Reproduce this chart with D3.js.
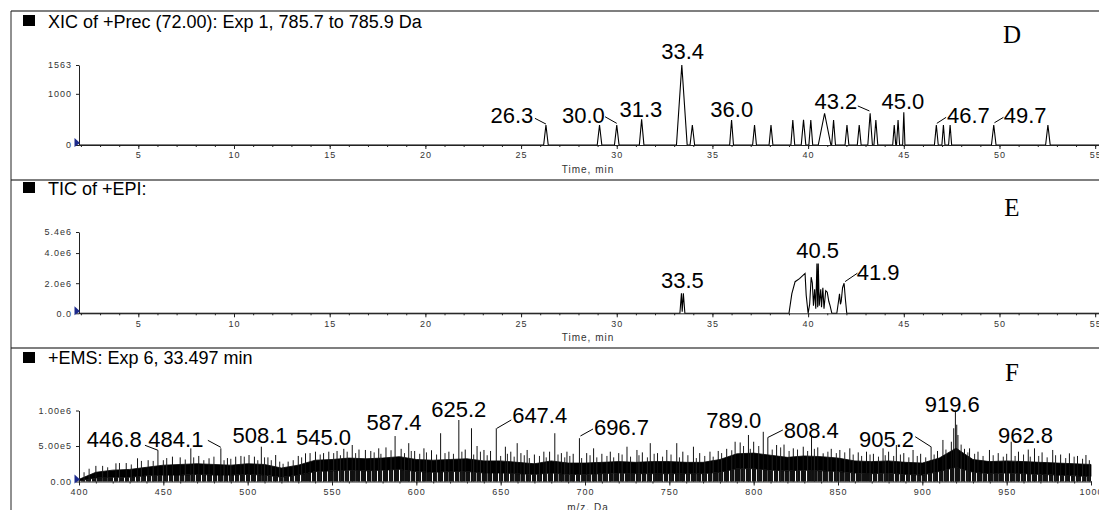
<!DOCTYPE html>
<html><head><meta charset="utf-8">
<script src="https://cdn.jsdelivr.net/npm/d3@7"></script>
<style>
html,body{margin:0;padding:0;background:#fff;overflow:hidden;}
svg{display:block;font-family:"Liberation Sans",Arial,sans-serif;}
.tick text{fill:#333;font-size:9px;letter-spacing:1px;}
.axis path,.axis line{stroke:#222;}
</style></head><body>
<svg id="c" width="1099" height="510"></svg>
<script>
// ---------------- DATA ----------------
const timeTicks = [5,10,15,20,25,30,35,40,45,50,55];
const mzTicks = [400,450,500,550,600,650,700,750,800,850,900,950,1000];
const xicYTicks = [0,1000,1563];
const xicYTickLabels = ["0","1000","1563"];
const ticYTicks = [0,2.0e6,4.0e6,5.4e6];
const ticYTickLabels = ["0.0","2.0e6","4.0e6","5.4e6"];
const emsYTicks = [0,5.0e5,1.0e6];
const emsYTickLabels = ["0.00","5.00e5","1.00e6"];

const titles = ["XIC of +Prec (72.00): Exp 1, 785.7 to 785.9 Da","TIC of +EPI:","+EMS: Exp 6, 33.497 min"];
const panelLetters = ["D","E","F"];

// Panel D: XIC peaks (retention time, min; intensity, cps; half width, min)
const xicRt        = [26.3,29.1,30.0,31.3,33.4,33.95,36.0,37.2,38.06,39.2,39.76,40.14,40.86,41.33,42.03,42.67,43.24,43.54,44.5,44.7,45.0,46.7,47.07,47.42,49.7,52.53];
const xicHeight    = [390,390,390,500,1563,390,490,390,390,490,490,490,620,490,390,390,620,490,390,490,640,390,390,390,390,390];
const xicHalfWidth = [0.12,0.12,0.12,0.12,0.28,0.12,0.1,0.1,0.1,0.1,0.12,0.1,0.33,0.1,0.1,0.1,0.12,0.1,0.08,0.08,0.06,0.1,0.08,0.08,0.12,0.12];
const xicLabelText = ["26.3","30.0","31.3","33.4","36.0","43.2","45.0","46.7","49.7"];
const xicLabelRt   = [26.3,30.0,31.3,33.4,36.0,43.24,45.0,46.7,49.7];
const xicLabelInt  = [390,390,500,1563,490,620,640,390,390];

// Panel E: TIC trace (time, min ; intensity, cps)
const ticTime = [1.9,33.3,33.38,33.42,33.48,33.56,39.0,39.15,39.32,39.55,39.84,39.9,40.0,40.08,40.16,40.22,40.28,40.34,40.4,40.46,40.5,40.53,40.58,40.66,40.7,40.77,40.83,40.92,41.0,41.08,41.15,41.24,41.5,41.6,41.64,41.69,41.73,41.8,41.88,41.95,42.02,55.2];
const ticInt  = [0,0,1.33e6,0.1e6,1.33e6,0,0,1.3e6,2.1e6,2.3e6,2.65e6,1.2e6,0,0.6e6,2.4e6,2.0e6,0.5e6,1.6e6,0.3e6,3.3e6,0.4e6,3.3e6,0.5e6,1.6e6,0.4e6,1.7e6,0.3e6,1.5e6,1.4e6,0.8e6,0.5e6,0,0,0.9e6,1.3e6,0.6e6,0.8e6,1.7e6,2.0e6,0.9e6,0,0];
const ticLabelText = ["33.5","40.5","41.9"];
const ticLabelTime = [33.48,40.5,41.88];
const ticLabelInt  = [1.33e6,3.3e6,2.0e6];

// Panel F: EMS spectrum — noise band envelope (m/z ; low and high edge, cps)
const noiseMz = [400,410,420,430,440,450,460,470,480,490,500,510,520,530,540,550,560,570,580,590,600,610,620,630,640,650,660,670,680,690,700,710,720,730,740,750,760,770,780,790,800,810,820,830,840,850,860,870,880,890,900,910,920,930,940,950,960,970,980,990,1000];
const noiseHi = [0.3e5,1.3e5,1.6e5,1.7e5,2.0e5,2.3e5,2.4e5,2.5e5,2.4e5,2.3e5,2.5e5,2.4e5,1.9e5,2.3e5,3.0e5,3.1e5,3.3e5,3.2e5,3.3e5,3.5e5,3.1e5,3.0e5,3.1e5,3.2e5,2.9e5,2.9e5,2.7e5,2.5e5,2.9e5,2.6e5,2.6e5,2.7e5,2.8e5,2.7e5,2.8e5,2.8e5,2.7e5,2.7e5,3.1e5,3.9e5,4.0e5,3.7e5,3.4e5,3.6e5,3.5e5,3.3e5,2.9e5,2.8e5,2.9e5,2.7e5,2.6e5,3.3e5,4.7e5,3.1e5,2.8e5,2.9e5,2.8e5,2.7e5,2.6e5,2.5e5,2.4e5];
const noiseLo = [0.1e5,0.5e5,0.6e5,0.6e5,0.8e5,0.9e5,0.9e5,1.0e5,0.9e5,0.9e5,1.0e5,0.9e5,0.6e5,0.9e5,1.4e5,1.5e5,1.6e5,1.5e5,1.6e5,1.7e5,1.4e5,1.3e5,1.4e5,1.4e5,1.2e5,1.2e5,1.1e5,1.0e5,1.2e5,1.0e5,1.0e5,1.1e5,1.2e5,1.1e5,1.1e5,1.1e5,1.1e5,1.1e5,1.3e5,1.8e5,1.8e5,1.6e5,1.5e5,1.6e5,1.5e5,1.4e5,1.2e5,1.1e5,1.2e5,1.0e5,0.9e5,1.4e5,2.0e5,1.3e5,1.1e5,1.2e5,1.1e5,1.0e5,0.9e5,0.8e5,0.7e5];
// prominent spectral lines (m/z ; intensity, cps)
const lineMz  = [410,421.9,428,434.7,441,446.8,455.4,460,466.3,471,477.1,484.1,488,492.9,496,500.8,504,508.1,512,516.6,524,530,534.3,537,540.2,545.0,548.1,553,557,562,566,569.8,573,577.7,582,587.4,591,595.5,599,604.5,609,614.4,619.3,625.2,629,632.7,636,640.1,644,647.4,652.8,656,659.8,662,665.7,670,675.6,679,682.1,686,689.3,693,696.7,701,705.1,710,715,720,724.9,730.8,734,738.7,743,748.5,754.4,758,764.3,768,774.1,779,784,789.0,792,796.9,800,805.7,808.4,813.6,818,823.5,829.4,834.3,838,841.2,846,851.1,857,862,866.9,871,876.7,880,884.6,889,894.5,899,905.2,909,912.2,917.2,918.6,919.6,920.4,921.1,925,928,933,939.8,945,952.7,957,962.8,966.5,971,977.3,982,987.2,992,997];
const lineInt = [2.2e5,2.56e5,2.6e5,3.27e5,3.0e5,4.4e5,3.5e5,3.4e5,4.67e5,3.6e5,3.27e5,4.67e5,3.3e5,3.5e5,3.6e5,3.73e5,3.5e5,4.9e5,3.4e5,3.73e5,2.8e5,3.6e5,3.97e5,4.0e5,4.2e5,4.0e5,4.2e5,4.3e5,4.6e5,5.14e5,4.5e5,4.44e5,4.3e5,4.67e5,4.8e5,6.4e5,4.6e5,5.4e5,4.3e5,4.67e5,4.4e5,6.8e5,4.2e5,8.66e5,4.5e5,7.5e5,5.0e5,4.44e5,4.3e5,7.5e5,4.9e5,4.2e5,5.4e5,4.0e5,4.44e5,3.8e5,4.2e5,4.2e5,6.8e5,4.0e5,4.2e5,3.9e5,6.1e5,4.0e5,4.67e5,3.9e5,4.2e5,4.0e5,4.9e5,4.44e5,4.1e5,5.4e5,4.0e5,4.44e5,5.4e5,4.2e5,4.9e5,4.0e5,4.2e5,4.3e5,4.6e5,5.6e5,5.5e5,6.55e5,5.6e5,7.0e5,6.2e5,5.14e5,5.2e5,4.67e5,4.9e5,6.55e5,4.8e5,3.97e5,4.6e5,4.44e5,4.67e5,4.1e5,4.2e5,3.9e5,4.67e5,4.2e5,5.14e5,4.0e5,4.44e5,3.9e5,4.9e5,4.3e5,5.85e5,5.6e5,7.5e5,1.0e6,8.0e5,6.55e5,4.6e5,4.67e5,4.2e5,4.44e5,4.0e5,5.6e5,4.2e5,4.5e5,4.67e5,4.1e5,4.44e5,3.8e5,3.97e5,3.6e5,3.73e5];
// small noise lines just above the band (m/z ; intensity, cps)
const noiseLineMz  = [403,406,414,417,424,431,437,444,450,452,463,468,474,480,486,490,498,506,510,514,519,521,527,532,543,551,555,559,564,575,579,585,593,597,602,606,612,617,622,627,634,638,642,650,654,658,664,667,673,677,684,688,691,698,703,707,713,717,722,727,732,737,741,746,751,756,761,766,771,776,781,787,794,798,803,811,816,821,826,832,836,844,849,854,859,864,869,874,878,883,887,892,897,902,907,914,923,927,931,936,942,948,950,955,960,964,969,974,979,985,990,995,999];
const noiseLineInt = [1.3e5,1.8e5,2.2e5,2.0e5,2.6e5,2.4e5,2.9e5,2.9e5,3.0e5,3.3e5,3.1e5,3.4e5,3.0e5,3.5e5,3.0e5,3.2e5,3.5e5,3.0e5,3.4e5,3.0e5,2.8e5,2.5e5,3.0e5,3.4e5,3.8e5,4.0e5,3.7e5,4.2e5,4.0e5,4.1e5,3.9e5,4.4e5,4.0e5,4.3e5,3.9e5,4.1e5,3.8e5,4.0e5,3.9e5,4.2e5,3.8e5,4.2e5,3.7e5,3.6e5,3.9e5,3.5e5,3.7e5,3.3e5,3.6e5,3.4e5,3.8e5,3.4e5,3.6e5,3.3e5,3.7e5,3.4e5,3.6e5,3.4e5,3.8e5,3.5e5,3.7e5,3.4e5,3.9e5,3.5e5,3.8e5,3.4e5,3.7e5,3.3e5,3.6e5,3.5e5,4.0e5,4.4e5,5.0e5,4.6e5,5.0e5,4.5e5,4.8e5,4.3e5,4.5e5,4.3e5,4.6e5,4.2e5,4.0e5,4.1e5,3.8e5,3.6e5,3.8e5,3.5e5,3.7e5,3.6e5,3.8e5,3.4e5,3.6e5,3.4e5,3.8e5,4.5e5,5.2e5,4.1e5,3.9e5,3.6e5,3.7e5,3.5e5,3.9e5,3.6e5,3.8e5,3.5e5,3.6e5,3.4e5,3.7e5,3.3e5,3.5e5,3.2e5,3.0e5];
const emsLabelText = ["446.8","484.1","508.1","545.0","587.4","625.2","647.4","696.7","789.0","808.4","905.2","919.6","962.8"];
const emsLabelMz   = [446.8,484.1,508.1,545.0,587.4,625.2,647.4,696.7,789.0,808.4,905.2,919.6,962.8];
const emsLabelInt  = [4.4e5,4.67e5,4.9e5,4.0e5,6.4e5,8.66e5,7.5e5,6.1e5,5.6e5,6.2e5,4.9e5,1.0e6,4.5e5];

// ---------------- LAYOUT (pixels) ----------------
const L = {
  axisX: 79, borderX: 11,
  panels: [
    {border:11,  base:145,   top:65,    titleY:28,  sq:15,  letterY:43,  axisTitleY:173, axisTitle:"Time, min"},
    {border:180, base:313.3, top:232,   titleY:195, sq:182, letterY:216, axisTitleY:341, axisTitle:"Time, min"},
    {border:348, base:481.5, top:410.5, titleY:364, sq:352, letterY:381, axisTitleY:511, axisTitle:"m/z, Da"}
  ]
};
// label offsets relative to the labelled apex: [dx, dy, leader x1,y1,x2,y2]
const xicLabelPos = [[-34,-2.3,-11,-6.7,0,-1],[-33.4,-2.3,-11.7,-8.3,0,-1.7],[-0.7,-2.7],[0.8,-5.7],[0.2,-3.2],[-34.2,-4,-12.3,-7.3,-0.7,-2.3],[-0.9,-2.9],[32,-2.3,0.5,-1.7,9.8,-7.7],[31.4,-2.3,0.7,-2.3,9.7,-7.7]];
const ticLabelPos = [[-1,-5.4],[0,-5.8],[34,-3.3,1,-1.6,13.3,-10]];
const emsLabelPos = [[-43.6,-3.6,-13,-5,0,0],[-45,-1.6,-13,-8,0,-1],[-1.3,-3.4],[0,-8],[-1,-6],[0,-3.3],[43.4,-5,0.7,0,15,-8.3],[42,-3.2,1,-2.2,13.6,-9.2],[-1.3,-13.4],[43.5,0.8,0,0,15,-7.5],[-44.6,0,-15.9,-10,-0.2,0],[-3.2,1.2],[-2.8,-6.3]];

const svg = d3.select("#c");
const W = 1099, H = 510;

// irregular dense texture for the lower part of the spectrum
const defs = svg.append("defs");
const pat = defs.append("pattern").attr("id","dense").attr("patternUnits","userSpaceOnUse").attr("width",11).attr("height",10);
pat.append("rect").attr("width",11).attr("height",10).attr("fill","#111");
pat.append("rect").attr("x",3).attr("width",1).attr("height",10).attr("fill","#fff");
pat.append("rect").attr("x",8).attr("width",1).attr("height",10).attr("fill","#ddd");

// frame
L.panels.forEach(p=>{
  svg.append("line").attr("x1",L.borderX).attr("x2",W).attr("y1",p.border).attr("y2",p.border).attr("stroke","#555").attr("stroke-width",1.5);
});
svg.append("line").attr("x1",L.borderX).attr("x2",L.borderX).attr("y1",L.panels[0].border).attr("y2",H).attr("stroke","#222").attr("stroke-width",1);

// scales
const xTime = d3.scaleLinear().domain([1.9,55.2]).range([L.axisX, W]);
const xMz = d3.scaleLinear().domain([400,1000]).range([L.axisX, 1091]);
const yXic = d3.scaleLinear().domain([0,1563]).range([L.panels[0].base, L.panels[0].top]);
const yTic = d3.scaleLinear().domain([0,5.4e6]).range([L.panels[1].base, L.panels[1].top]);
const yEms = d3.scaleLinear().domain([0,1.0e6]).range([L.panels[2].base, L.panels[2].top]);

function header(i){
  const p = L.panels[i];
  svg.append("rect").attr("x",23).attr("y",p.sq).attr("width",12).attr("height",11).attr("fill","#000");
  svg.append("text").attr("x",48).attr("y",p.titleY).attr("font-size",18).attr("fill","#000").text(titles[i]);
  svg.append("text").attr("x",1012).attr("y",p.letterY).attr("text-anchor","middle")
    .attr("font-family","'Liberation Serif','Times New Roman',serif").attr("font-size",25).attr("fill","#000").text(panelLetters[i]);
}

function axes(i, xs, majors, minors, fmt, ys, yTicks, yLabels){
  const p = L.panels[i];
  svg.append("g").attr("class","axis").attr("transform",`translate(0,${p.base})`)
    .call(d3.axisBottom(xs).tickValues(majors).tickSize(4).tickSizeOuter(0).tickPadding(3).tickFormat(fmt));
  const gm = svg.append("g").attr("class","axis").attr("transform",`translate(0,${p.base})`)
    .call(d3.axisBottom(xs).tickValues(minors).tickSize(2).tickFormat(""));
  gm.select(".domain").remove();
  gm.selectAll("line").attr("stroke","#777");
  svg.append("g").attr("class","axis").attr("transform",`translate(${L.axisX},0)`)
    .call(d3.axisLeft(ys).tickValues(yTicks).tickSize(3).tickSizeOuter(0).tickPadding(4).tickFormat((d,k)=>yLabels[k]));
  svg.append("text").attr("x",588).attr("y",p.axisTitleY).attr("text-anchor","middle")
    .attr("font-size",10).attr("letter-spacing","1px").attr("fill","#333").text(p.axisTitle);
  // origin marker
  svg.append("path").attr("d",`M${L.axisX-4.5},${p.base-7}L${L.axisX+1},${p.base-2}L${L.axisX-4.5},${p.base+2}Z`).attr("fill","#1c2a8c");
}

function labels(texts, xs, ys, xv, yv, pos, size){
  texts.forEach((t,k)=>{
    const px = xs(xv[k]), py = ys(yv[k]), o = pos[k];
    svg.append("text").attr("x",px+o[0]).attr("y",py+o[1]).attr("text-anchor","middle")
      .attr("font-size",size).attr("fill","#000").text(t);
    if(o.length>2){
      svg.append("line").attr("x1",px+o[2]).attr("y1",py+o[3]).attr("x2",px+o[4]).attr("y2",py+o[5])
        .attr("stroke","#000").attr("stroke-width",1);
    }
  });
}

// ---------- Panel D ----------
header(0);
{
  const pts = [[1.9,0]];
  xicRt.forEach((rt,k)=>{ pts.push([rt-xicHalfWidth[k],0],[rt,xicHeight[k]],[rt+xicHalfWidth[k],0]); });
  pts.push([55.2,0]);
  svg.append("path").datum(pts).attr("fill","none").attr("stroke","#000").attr("stroke-width",1.1)
    .attr("d", d3.line().x(d=>xTime(d[0])).y(d=>yXic(d[1])));
}
axes(0, xTime, timeTicks, d3.range(2,56), d3.format("d"), yXic, xicYTicks, xicYTickLabels);
labels(xicLabelText, xTime, yXic, xicLabelRt, xicLabelInt, xicLabelPos, 22);

// ---------- Panel E ----------
header(1);
svg.append("path").datum(ticTime.map((t,k)=>[t,ticInt[k]])).attr("fill","none").attr("stroke","#000").attr("stroke-width",1.1)
  .attr("d", d3.line().x(d=>xTime(d[0])).y(d=>yTic(d[1])));
axes(1, xTime, timeTicks, d3.range(2,56), d3.format("d"), yTic, ticYTicks, ticYTickLabels);
labels(ticLabelText, xTime, yTic, ticLabelTime, ticLabelInt, ticLabelPos, 22);

// ---------- Panel F ----------
header(2);
{
  const band = noiseMz.map((m,k)=>({m, lo:noiseLo[k], hi:noiseHi[k]}));
  svg.append("path").datum(band).attr("fill","url(#dense)")
    .attr("d", d3.area().x(d=>xMz(d.m)).y0(yEms(0)).y1(d=>yEms(d.lo)));
  svg.append("path").datum(band).attr("fill","#000").attr("stroke","#000").attr("stroke-width",0.8)
    .attr("d", d3.area().x(d=>xMz(d.m)).y0(d=>yEms(d.lo)).y1(d=>yEms(d.hi)));
  svg.append("g").selectAll("line").data(noiseLineMz.map((m,k)=>[m,noiseLineInt[k]])).join("line")
    .attr("x1",d=>xMz(d[0])).attr("x2",d=>xMz(d[0]))
    .attr("y1",yEms(0)).attr("y2",d=>yEms(d[1]))
    .attr("stroke","#222").attr("stroke-width",1);
  svg.append("g").selectAll("line").data(lineMz.map((m,k)=>[m,lineInt[k]])).join("line")
    .attr("x1",d=>xMz(d[0])).attr("x2",d=>xMz(d[0]))
    .attr("y1",yEms(0)).attr("y2",d=>yEms(d[1]))
    .attr("stroke","#111").attr("stroke-width",1);
}
axes(2, xMz, mzTicks, d3.range(400,1001,10), d3.format("d"), yEms, emsYTicks, emsYTickLabels);
labels(emsLabelText, xMz, yEms, emsLabelMz, emsLabelInt, emsLabelPos, 22);
</script>
</body></html>
